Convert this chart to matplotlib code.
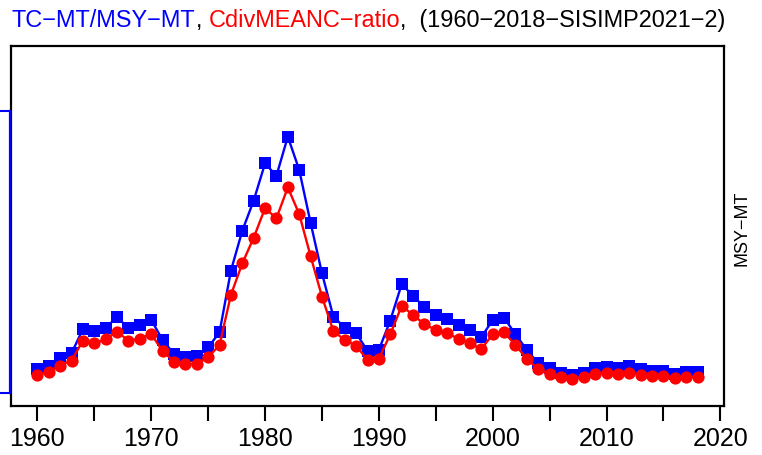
import numpy as np
import matplotlib
matplotlib.use('Agg')
from matplotlib import pyplot as plt
from matplotlib import transforms

plt.rcParams['font.family'] = ['Liberation Sans', 'DejaVu Sans']

years = np.arange(1960, 2019)

# TC-MT / MSY-MT (blue squares)
tc = [0.083, 0.096, 0.122, 0.140, 0.226, 0.219, 0.231, 0.268, 0.229, 0.240,
      0.258, 0.187, 0.137, 0.128, 0.131, 0.161, 0.214, 0.433, 0.575, 0.682,
      0.814, 0.770, 0.909, 0.791, 0.603, 0.424, 0.270, 0.231, 0.211, 0.149,
      0.152, 0.256, 0.385, 0.344, 0.303, 0.276, 0.262, 0.240, 0.223, 0.197,
      0.258, 0.266, 0.207, 0.152, 0.104, 0.087, 0.071, 0.063, 0.071, 0.087,
      0.092, 0.087, 0.095, 0.084, 0.078, 0.078, 0.066, 0.073, 0.073]

# CdivMEANC ratio (red circles)
cdiv = [0.063, 0.075, 0.096, 0.114, 0.185, 0.175, 0.190, 0.217, 0.184, 0.192,
        0.208, 0.148, 0.110, 0.101, 0.102, 0.126, 0.169, 0.347, 0.459, 0.550,
        0.655, 0.619, 0.729, 0.634, 0.485, 0.341, 0.219, 0.187, 0.167, 0.116,
        0.121, 0.207, 0.308, 0.276, 0.243, 0.223, 0.211, 0.191, 0.175, 0.155,
        0.207, 0.214, 0.169, 0.120, 0.084, 0.065, 0.055, 0.049, 0.057, 0.066,
        0.069, 0.066, 0.071, 0.063, 0.060, 0.060, 0.051, 0.057, 0.055]

ytop = 1.1835
xticks = np.arange(1960, 2021, 5)
xlabels = [str(t) if t % 10 == 0 else '' for t in xticks]

fig = plt.figure(figsize=(7.62, 4.55), dpi=100)
ax = fig.add_axes([11/762, 49/455, 713/762, 360/455])

ax.plot(years, tc, '-s', color='#0000FF', lw=1.7, ms=8.6, mew=0)
ax.plot(years, cdiv, '-o', color='#FF0000', lw=1.7, ms=8.8, mew=0)

ax.set_xlim(1960 - 0.04*58, 2018 + 0.04*58)
ax.set_ylim(-0.04*ytop, 1.04*ytop)

for s in ax.spines.values():
    s.set_linewidth(1.6)
ax.set_xticks(xticks)
ax.set_xticklabels(xlabels, fontsize=18)
ax.tick_params(axis='x', length=11, width=1.5, pad=4)
ax.set_yticks([0, 1])
ax.set_yticklabels(['', ''])
ax.tick_params(axis='y', length=8, width=1.5, color='#0000FF')

# blue left axis line
tr = transforms.blended_transform_factory(ax.transAxes, ax.transData)
ax.plot([-0.0015, -0.0015], [0, 1], color='#0000FF', lw=1.6,
        transform=tr, clip_on=False, zorder=5)

# title in three colours
parts = [('TC\u2212MT/MSY\u2212MT', '#0000FF'), (', ', 'black'),
         ('CdivMEANC\u2212ratio', '#FF0000'),
         (',  (1960\u22122018\u2212SISIMP2021\u22122)', 'black')]
fig.canvas.draw()
r = fig.canvas.get_renderer()
x = 12
for txt, col in parts:
    t = fig.text(x/762, 1 - 27/455, txt, color=col, fontsize=16.9, va='baseline')
    bb = t.get_window_extent(renderer=r)
    x = bb.x1

fig.text(742/762, 1 - 228/455, 'MSY\u2212MT', rotation=90, fontsize=13,
         ha='center', va='center')

plt.savefig('out.png', dpi=100)
